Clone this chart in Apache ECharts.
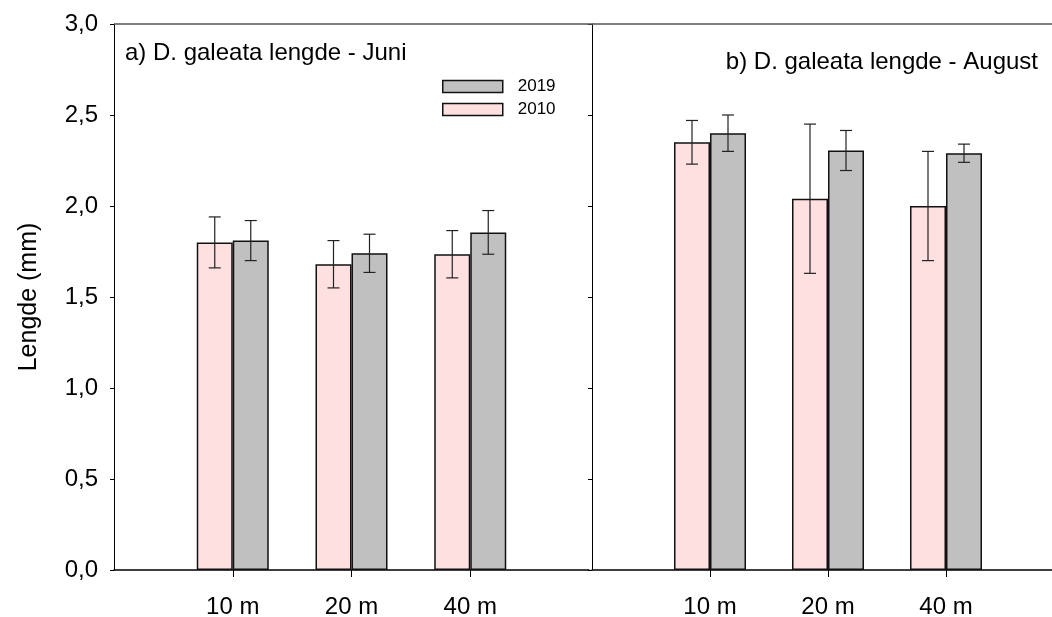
<!DOCTYPE html>
<html>
<head>
<meta charset="utf-8">
<script src="https://cdn.jsdelivr.net/npm/echarts@6/dist/echarts.min.js"></script>
<style>
html,body{margin:0;padding:0;background:#fff;}
#chart{width:1052px;height:617px;}
</style>
</head>
<body>
<div id="chart"></div>
<script>
// ---- data ----
const categories = ['10 m', '20 m', '40 m'];
const yTicks = ['0,0', '0,5', '1,0', '1,5', '2,0', '2,5', '3,0'];
// Panel a) June
const juni2010 = [1.80, 1.68, 1.735];
const juni2010Err = [0.14, 0.13, 0.13];
const juni2019 = [1.81, 1.74, 1.855];
const juni2019Err = [0.11, 0.105, 0.12];
// Panel b) August
const aug2010 = [2.35, 2.04, 2.00];
const aug2010Err = [0.12, 0.41, 0.30];
const aug2019 = [2.40, 2.305, 2.29];
const aug2019Err = [0.10, 0.11, 0.05];

const FONT = 'Liberation Sans, Arial, sans-serif';
const BIG = 24;
const BAR_W = 36;
const PINK = '#FFE0E1';
const GRAY = '#C0C0C0';

// padded category axis so that the categories sit at the inner ticks
const axisCats = [''].concat(categories).concat(['']);

function barData(vals) { return vals.map((v, i) => [i + 1, v]); }
function errData(vals, errs) { return vals.map((v, i) => [i + 1, v - errs[i], v + errs[i]]); }

function errSeries(name, vals, errs, gridIdx, slot) {
  return {
    type: 'custom',
    name: name + ' err',
    xAxisIndex: gridIdx, yAxisIndex: gridIdx,
    z: 5,
    data: errData(vals, errs),
    renderItem: function (params, api) {
      const off = (slot - 0.5) * BAR_W;
      const lo = api.coord([api.value(0), api.value(1)]);
      const hi = api.coord([api.value(0), api.value(2)]);
      const x = lo[0] + off;
      const cap = 6;
      const st = { stroke: '#222', lineWidth: 1.2 };
      return {
        type: 'group',
        children: [
          { type: 'line', shape: { x1: x, y1: lo[1], x2: x, y2: hi[1] }, style: st },
          { type: 'line', shape: { x1: x - cap, y1: lo[1], x2: x + cap, y2: lo[1] }, style: st },
          { type: 'line', shape: { x1: x - cap, y1: hi[1], x2: x + cap, y2: hi[1] }, style: st }
        ]
      };
    }
  };
}

function barSeries(name, vals, gridIdx, color) {
  return {
    type: 'bar',
    name: name,
    xAxisIndex: gridIdx, yAxisIndex: gridIdx,
    barWidth: BAR_W,
    barGap: '0%',
    data: barData(vals),
    itemStyle: { color: color, borderColor: '#111', borderWidth: 1.5 },
    emphasis: { disabled: true },
    animation: false
  };
}

function xAxisDef(gridIdx) {
  return {
    type: 'category',
    gridIndex: gridIdx,
    data: axisCats,
    boundaryGap: false,
    axisLine: { lineStyle: { color: '#000', width: 1.5 } },
    axisTick: {
      length: 7, inside: false,
      interval: function (idx, val) { return val !== ''; },
      lineStyle: { color: '#000', width: 1 }
    },
    axisLabel: { interval: 0, margin: 25, fontSize: BIG, color: '#000', fontFamily: FONT },
    splitLine: { show: false }
  };
}

function yAxisDef(gridIdx, showLabels) {
  return {
    type: 'value',
    gridIndex: gridIdx,
    min: 0, max: 3, interval: 0.5,
    name: showLabels ? 'Lengde (mm)' : '',
    nameLocation: 'middle',
    nameGap: 72,
    nameTextStyle: { fontSize: 25, color: '#000', fontFamily: FONT },
    axisLine: { show: true, lineStyle: { color: '#000', width: 1 } },
    axisTick: { show: true, length: 4, inside: false, lineStyle: { color: '#000', width: 1 } },
    axisLabel: {
      show: showLabels, margin: 16, fontSize: BIG, color: '#000', fontFamily: FONT,
      formatter: function (v) { return yTicks[Math.round(v / 0.5)]; }
    },
    splitLine: { show: false }
  };
}

const chart = echarts.init(document.getElementById('chart'), null, { renderer: 'canvas' });
chart.setOption({
  animation: false,
  backgroundColor: '#fff',
  textStyle: { fontFamily: FONT },
  grid: [
    { left: 114, right: 463, top: 24, bottom: 47, containLabel: false, outerBoundsMode: 'none' },
    { left: 592, width: 472, top: 24, bottom: 47, containLabel: false, outerBoundsMode: 'none' }
  ],
  title: [
    { text: 'a) D. galeata lengde - Juni', left: 125, top: 41, padding: 0,
      textStyle: { fontSize: BIG, fontWeight: 'normal', color: '#000', fontFamily: FONT } },
    { text: 'b) D. galeata lengde - August', right: 14, top: 50, padding: 0,
      textStyle: { fontSize: BIG, fontWeight: 'normal', color: '#000', fontFamily: FONT } }
  ],
  legend: {
    orient: 'vertical',
    left: 442, top: 78,
    padding: 0,
    itemWidth: 60, itemHeight: 12, itemGap: 6,
    textStyle: { fontSize: 17, color: '#000', fontFamily: FONT, padding: [0, 0, 0, 10] },
    data: [
      { name: '2019', icon: 'rect', itemStyle: { color: GRAY, borderColor: '#111', borderWidth: 1.5 } },
      { name: '2010', icon: 'rect', itemStyle: { color: PINK, borderColor: '#111', borderWidth: 1.5 } }
    ],
    selectedMode: false
  },
  xAxis: [xAxisDef(0), xAxisDef(1)],
  yAxis: [yAxisDef(0, true), yAxisDef(1, false)],
  graphic: [
    { type: 'line', shape: { x1: 114, y1: 24, x2: 1052, y2: 24 },
      style: { stroke: '#555', lineWidth: 1.5 }, z: 10 }
  ],
  series: [
    barSeries('2010', juni2010, 0, PINK),
    barSeries('2019', juni2019, 0, GRAY),
    barSeries('2010', aug2010, 1, PINK),
    barSeries('2019', aug2019, 1, GRAY),
    errSeries('2010', juni2010, juni2010Err, 0, 0),
    errSeries('2019', juni2019, juni2019Err, 0, 1),
    errSeries('2010', aug2010, aug2010Err, 1, 0),
    errSeries('2019', aug2019, aug2019Err, 1, 1)
  ]
});
</script>
</body>
</html>
